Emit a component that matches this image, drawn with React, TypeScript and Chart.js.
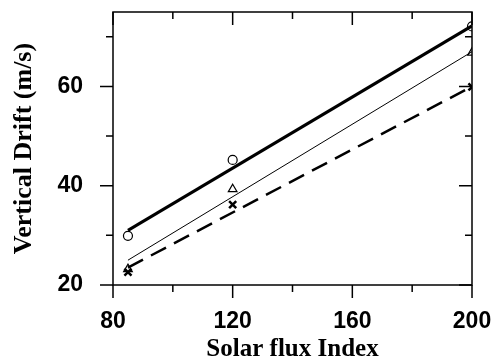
import React, { useEffect, useRef } from "react";
import { Chart, registerables } from "chart.js";

Chart.register(...registerables);

const xTicks = [80, 120, 160, 200];
const xMinorTicks = [100, 140, 180];
const yTicks = [20, 40, 60];
const yMinorTicks = [30, 50, 70];

const solarFlux = [85, 120, 200];
const circleValues = [29.9, 45.2, 72.1];
const triangleValues = [23.2, 39.3, 66.8];
const crossValues = [22.6, 36.2, 59.9];

const fitX = [85, 200];
const circleFit = [31.0, 72.2];
const triangleFit = [25.0, 67.0];
const crossFit = [23.5, 60.0];

const xTitle = "Solar flux Index";
const yTitle = "Vertical Drift (m/s)";

const toPts = (xs: number[], ys: number[]) => xs.map((x, i) => ({ x, y: ys[i] }));

const framePlugin = {
  id: "frame",
  afterDatasetsDraw(chart: any) {
    const { ctx, chartArea: a, scales } = chart;
    const xs = scales.x;
    const ys = scales.y;
    ctx.save();
    ctx.strokeStyle = "#000";
    ctx.lineWidth = 1.5;
    ctx.strokeRect(a.left, a.top, a.right - a.left, a.bottom - a.top);
    ctx.beginPath();
    const major = 13;
    const minor = 7;
    for (const v of xTicks) {
      const p = xs.getPixelForValue(v);
      ctx.moveTo(p, a.bottom); ctx.lineTo(p, a.bottom + major);
      ctx.moveTo(p, a.top); ctx.lineTo(p, a.top + major);
    }
    for (const v of xMinorTicks) {
      const p = xs.getPixelForValue(v);
      ctx.moveTo(p, a.bottom); ctx.lineTo(p, a.bottom + minor);
      ctx.moveTo(p, a.top); ctx.lineTo(p, a.top + minor);
    }
    for (const v of yTicks) {
      const p = ys.getPixelForValue(v);
      ctx.moveTo(a.left, p); ctx.lineTo(a.left - major, p);
      ctx.moveTo(a.right, p); ctx.lineTo(a.right - major, p);
    }
    for (const v of yMinorTicks) {
      const p = ys.getPixelForValue(v);
      ctx.moveTo(a.left, p); ctx.lineTo(a.left - minor, p);
      ctx.moveTo(a.right, p); ctx.lineTo(a.right - minor, p);
    }
    ctx.stroke();
    ctx.restore();
  },
};

export default function App() {
  const ref = useRef<HTMLCanvasElement | null>(null);
  useEffect(() => {
    if (!ref.current) return;
    const tickFont = { family: '"Liberation Sans", Arial, sans-serif', size: 23, weight: "bold" as const };
    const chart = new Chart(ref.current, {
      type: "scatter",
      data: {
        datasets: [
          {
            data: toPts(fitX, circleFit),
            showLine: true,
            borderColor: "#000",
            borderWidth: 3,
            pointRadius: 0,
          },
          {
            data: toPts(fitX, triangleFit),
            showLine: true,
            borderColor: "#000",
            borderWidth: 1,
            pointRadius: 0,
          },
          {
            data: toPts(fitX, crossFit),
            showLine: true,
            borderColor: "#000",
            borderWidth: 2.5,
            borderDash: [17, 9],
            pointRadius: 0,
          },
          {
            data: toPts(solarFlux, circleValues),
            pointStyle: "circle",
            pointRadius: 4.5,
            borderColor: "#000",
            backgroundColor: "rgba(0,0,0,0)",
            borderWidth: 1.2,
          },
          {
            data: toPts(solarFlux, triangleValues),
            pointStyle: "triangle",
            pointRadius: 5,
            borderColor: "#000",
            backgroundColor: "rgba(0,0,0,0)",
            borderWidth: 1.2,
          },
          {
            data: toPts(solarFlux, crossValues),
            pointStyle: "crossRot",
            pointRadius: 5,
            borderColor: "#000",
            borderWidth: 2.5,
          },
        ],
      },
      options: {
        responsive: false,
        animation: false,
        layout: { padding: { top: 12, right: 21, left: 0, bottom: 0 } },
        plugins: { legend: { display: false }, tooltip: { enabled: false } },
        scales: {
          x: {
            type: "linear",
            min: 80,
            max: 200,
            grid: { display: false },
            border: { display: false },
            afterBuildTicks: (s: any) => { s.ticks = xTicks.map((v) => ({ value: v })); },
            afterFit: (s: any) => { s.height = 76; s.paddingLeft = 0; s.paddingRight = 0; },
            ticks: { color: "#000", font: tickFont, padding: 15, maxRotation: 0 },
            title: {
              display: true,
              text: xTitle,
              color: "#000",
              font: { family: '"Liberation Serif", "Times New Roman", serif', size: 25, weight: "bold" },
              padding: { top: 0, bottom: -4 },
            },
          },
          y: {
            type: "linear",
            min: 20,
            max: 75,
            grid: { display: false },
            border: { display: false },
            afterBuildTicks: (s: any) => { s.ticks = yTicks.map((v) => ({ value: v })); },
            afterFit: (s: any) => { s.width = 113; s.paddingTop = 0; s.paddingBottom = 0; },
            ticks: { color: "#000", font: tickFont, padding: 22 },
            title: {
              display: true,
              text: yTitle,
              color: "#000",
              font: { family: '"Liberation Serif", "Times New Roman", serif', size: 26, weight: "bold" },
              padding: { top: 9, bottom: 0 },
            },
          },
        },
      },
      plugins: [framePlugin],
    });
    return () => chart.destroy();
  }, []);
  return (
    <div style={{ position: "absolute", left: 0, top: 0, width: 493, height: 361, background: "#fff" }}>
      <canvas ref={ref} width={493} height={361} style={{ display: "block" }} />
    </div>
  );
}
